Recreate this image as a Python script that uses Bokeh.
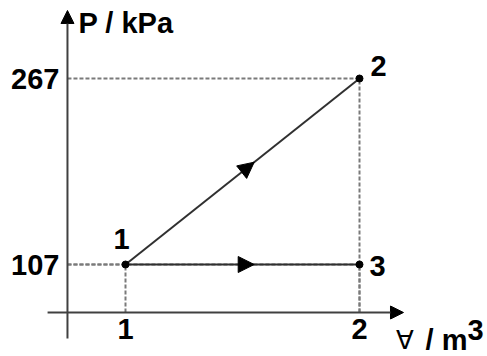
from bokeh.plotting import figure
from bokeh.models import ColumnDataSource, Arrow, NormalHead
from bokeh.core.properties import value
from bokeh.embed import file_html
from bokeh.resources import INLINE

# State points of the process (volume in m3, pressure in kPa)
state_labels = ["1", "2", "3"]
volume = [1, 2, 2]
pressure = [107, 267, 107]

# Axis tick labels
x_ticks = [1, 2]
x_tick_labels = ["1", "2"]
y_ticks = [107, 267]
y_tick_labels = ["107", "267"]

# Processes drawn as directed paths: (from state, to state)
paths = [(0, 1), (0, 2)]

FONT = value("Liberation Sans")
SIZE = "29px"
INK = "#000000"
LINE = "#303030"
DASH = "#7a7a7a"

# plot window and where the drawn axes cross
x_lo, x_hi = 0.4658, 2.547
y_lo, y_hi = 27.86, 334.1
ax_x, ax_y = 0.752, 65.7           # axis origin
ax_x_end, ax_y_end = 2.188, 325.5  # arrow tips
ax_x_start, ax_y_start = 0.667, 43.35

p = figure(width=487, height=356, x_range=(x_lo, x_hi), y_range=(y_lo, y_hi),
           output_backend="svg", toolbar_location=None, min_border=0,
           background_fill_color="white", border_fill_color="white")
p.axis.visible = False
p.grid.visible = False
p.outline_line_color = None

# dashed guide lines to the axes
for i in range(len(volume)):
    p.line([ax_x, volume[i]], [pressure[i], pressure[i]], line_color=DASH,
           line_width=2, line_dash="4 2")
    p.line([volume[i], volume[i]], [ax_y, pressure[i]], line_color=DASH,
           line_width=2, line_dash="4 2")

# axes with arrow heads
p.add_layout(Arrow(x_start=ax_x, y_start=ax_y_start, x_end=ax_x, y_end=ax_y_end,
                   line_color="#404040", line_width=2,
                   end=NormalHead(size=13, fill_color=INK, line_color=INK, line_width=1)))
p.add_layout(Arrow(x_start=ax_x_start, y_start=ax_y, x_end=ax_x_end, y_end=ax_y,
                   line_color="#404040", line_width=2,
                   end=NormalHead(size=13, fill_color=INK, line_color=INK, line_width=1)))

# process paths with direction arrows part way along
for a, b in paths:
    p.line([volume[a], volume[b]], [pressure[a], pressure[b]], line_color=LINE, line_width=2)
    t = 0.55
    xe = volume[a] + t * (volume[b] - volume[a])
    ye = pressure[a] + t * (pressure[b] - pressure[a])
    xs = volume[a] + (t - 0.05) * (volume[b] - volume[a])
    ys = pressure[a] + (t - 0.05) * (pressure[b] - pressure[a])
    p.add_layout(Arrow(x_start=xs, y_start=ys, x_end=xe, y_end=ye, line_alpha=0,
                       end=NormalHead(size=16, fill_color=INK, line_color=INK, line_width=1)))

# state points and their labels
label_dx = [-4, 19, 18]
label_dy = [-26, -13, 1]
pts = ColumnDataSource(dict(x=volume, y=pressure, text=state_labels,
                            dx=label_dx, dy=label_dy))
p.scatter("x", "y", source=pts, size=7, fill_color=INK, line_color=INK)
p.text("x", "y", text="text", source=pts, x_offset="dx", y_offset="dy",
       text_font=FONT, text_font_style="bold", text_font_size=SIZE,
       text_align="center", text_baseline="middle", text_color=INK)

# tick labels
p.text(x=x_ticks, y=[ax_y] * len(x_ticks), text=x_tick_labels, y_offset=16,
       text_font=FONT, text_font_style="bold", text_font_size=SIZE,
       text_align="center", text_baseline="middle", text_color=INK)
p.text(x=[ax_x] * len(y_ticks), y=y_ticks, text=y_tick_labels, x_offset=-8,
       text_font=FONT, text_font_style="bold", text_font_size=SIZE,
       text_align="right", text_baseline="middle", text_color=INK)

# axis titles
p.text(x=[ax_x], y=[ax_y_end], text=["P / kPa"], x_offset=11, y_offset=13,
       text_font=FONT, text_font_style="bold", text_font_size=SIZE,
       text_align="left", text_baseline="middle", text_color=INK)
p.text(x=[ax_x_end], y=[ax_y], text=["\u2200"], x_offset=2, y_offset=27,
       text_font=FONT, text_font_size="26px",
       text_align="center", text_baseline="middle", text_color=INK)
p.text(x=[ax_x_end], y=[ax_y], text=["/ m"], x_offset=64, y_offset=27,
       text_font=FONT, text_font_style="bold", text_font_size=SIZE,
       text_align="right", text_baseline="middle", text_color=INK)
p.text(x=[ax_x_end], y=[ax_y], text=["3"], x_offset=64, y_offset=17,
       text_font=FONT, text_font_style="bold", text_font_size=SIZE,
       text_align="left", text_baseline="middle", text_color=INK)

open("out.html", "w").write(file_html(p, INLINE))
